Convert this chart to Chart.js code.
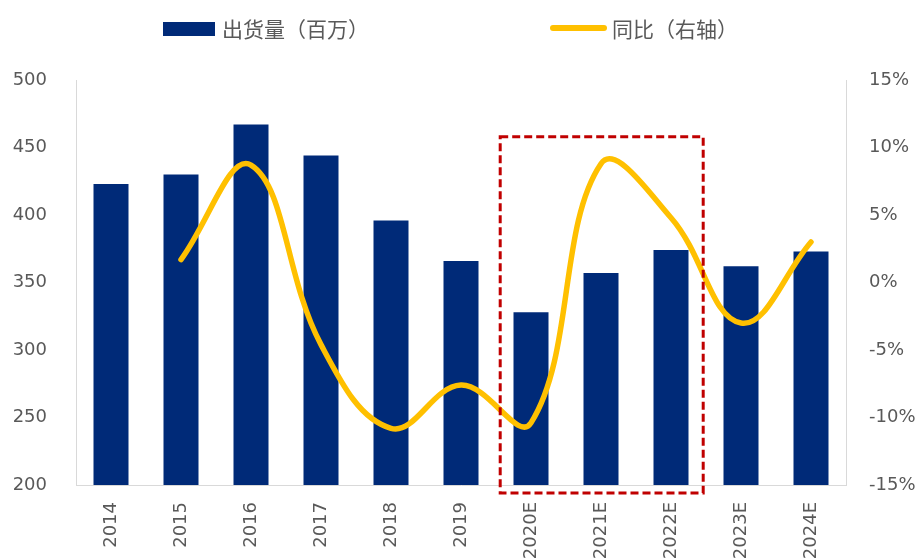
<!DOCTYPE html>
<html>
<head>
<meta charset="utf-8">
<script src="https://cdn.jsdelivr.net/npm/chart.js@4/dist/chart.umd.min.js"></script>
<style>
  html, body { margin: 0; padding: 0; background: #ffffff; }
  #wrap { width: 919px; height: 560px; }
</style>
</head>
<body>
<div id="wrap"><canvas id="c" width="919" height="560"></canvas></div>
<script>
// ---- data ----
const categories = ['2014', '2015', '2016', '2017', '2018', '2019', '2020E', '2021E', '2022E', '2023E', '2024E'];
const shipments = [423, 430, 467, 444, 396, 366, 328, 357, 374, 362, 373];          // 出货量（百万）
const yoyPct = [null, 1.7, 8.7, -4.6, -10.8, -7.6, -10.4, 8.8, 4.8, -3.0, 3.0];     // 同比（右轴）, %
const leftTicks = [200, 250, 300, 350, 400, 450, 500];
const rightTicks = [-15, -10, -5, 0, 5, 10, 15];
const legendLabels = ['出货量（百万）', '同比（右轴）'];
const highlightStart = '2020E';
const highlightEnd = '2022E';
const highlightTopValue = 458;

const NAVY = '#002A78';
const GOLD = '#FFC000';
const RED = '#C00000';
const TEXT = '#595959';
const AXIS = '#D9D9D9';
const TICK_FONT = { family: 'DejaVu Sans', size: 18 };

const legendPlugin = {
  id: 'customLegend',
  afterDraw(chart) {
    const ctx = chart.ctx;
    ctx.save();
    ctx.font = '21px "Noto Sans CJK SC"';
    ctx.textBaseline = 'middle';
    ctx.fillStyle = NAVY;
    ctx.fillRect(163, 22, 52, 14);
    ctx.fillStyle = TEXT;
    ctx.fillText(legendLabels[0], 222, 29);
    ctx.strokeStyle = GOLD;
    ctx.lineWidth = 6;
    ctx.lineCap = 'round';
    ctx.beginPath();
    ctx.moveTo(553, 28);
    ctx.lineTo(604, 28);
    ctx.stroke();
    ctx.fillText(legendLabels[1], 612, 29);
    ctx.restore();
  }
};

const boxPlugin = {
  id: 'highlightBox',
  afterDatasetsDraw(chart) {
    const x = chart.scales.x, y = chart.scales.y;
    const cat = x.getPixelForValue(1) - x.getPixelForValue(0);
    const i0 = categories.indexOf(highlightStart);
    const i1 = categories.indexOf(highlightEnd);
    const left = x.getPixelForValue(i0) - cat * 0.44;
    const right = x.getPixelForValue(i1) + cat * 0.46;
    const top = y.getPixelForValue(highlightTopValue);
    const bottom = chart.chartArea.bottom + 8;
    const ctx = chart.ctx;
    ctx.save();
    ctx.strokeStyle = RED;
    ctx.lineWidth = 3;
    ctx.setLineDash([8, 4]);
    ctx.strokeRect(left, top, right - left, bottom - top);
    ctx.restore();
  }
};

new Chart(document.getElementById('c'), {
  type: 'bar',
  data: {
    labels: categories,
    datasets: [
      {
        type: 'line',
        label: legendLabels[1],
        data: yoyPct,
        yAxisID: 'y1',
        borderColor: GOLD,
        borderWidth: 5.5,
        borderCapStyle: 'round',
        borderJoinStyle: 'round',
        pointRadius: 0,
        tension: 0.4,
        fill: false,
        order: 0
      },
      {
        type: 'bar',
        label: legendLabels[0],
        data: shipments,
        yAxisID: 'y',
        backgroundColor: NAVY,
        borderWidth: 0,
        barPercentage: 0.5,
        categoryPercentage: 1.0,
        order: 1
      }
    ]
  },
  options: {
    responsive: false,
    animation: false,
    layout: { padding: { top: 80, left: 0, right: 0, bottom: 0 } },
    plugins: {
      legend: { display: false },
      tooltip: { enabled: false }
    },
    scales: {
      x: {
        grid: { display: false, drawTicks: false },
        border: { display: true, color: AXIS, width: 1 },
        ticks: {
          color: TEXT, font: TICK_FONT, minRotation: 90, maxRotation: 90,
          padding: 17, autoSkip: false
        },
        afterFit(s) { s.height = 75; }
      },
      y: {
        position: 'left',
        min: 200, max: 500,
        grid: { display: false, drawTicks: false },
        border: { display: true, color: AXIS, width: 1 },
        afterBuildTicks(s) { s.ticks = leftTicks.map(v => ({ value: v })); },
        ticks: { color: TEXT, font: TICK_FONT, padding: 29 },
        afterFit(s) { s.width = 76; }
      },
      y1: {
        position: 'right',
        min: -15, max: 15,
        grid: { display: false, drawTicks: false },
        border: { display: true, color: AXIS, width: 1 },
        afterBuildTicks(s) { s.ticks = rightTicks.map(v => ({ value: v })); },
        ticks: { color: TEXT, font: TICK_FONT, padding: 23, callback: v => v + '%' },
        afterFit(s) { s.width = 73; }
      }
    }
  },
  plugins: [legendPlugin, boxPlugin]
});
</script>
</body>
</html>
